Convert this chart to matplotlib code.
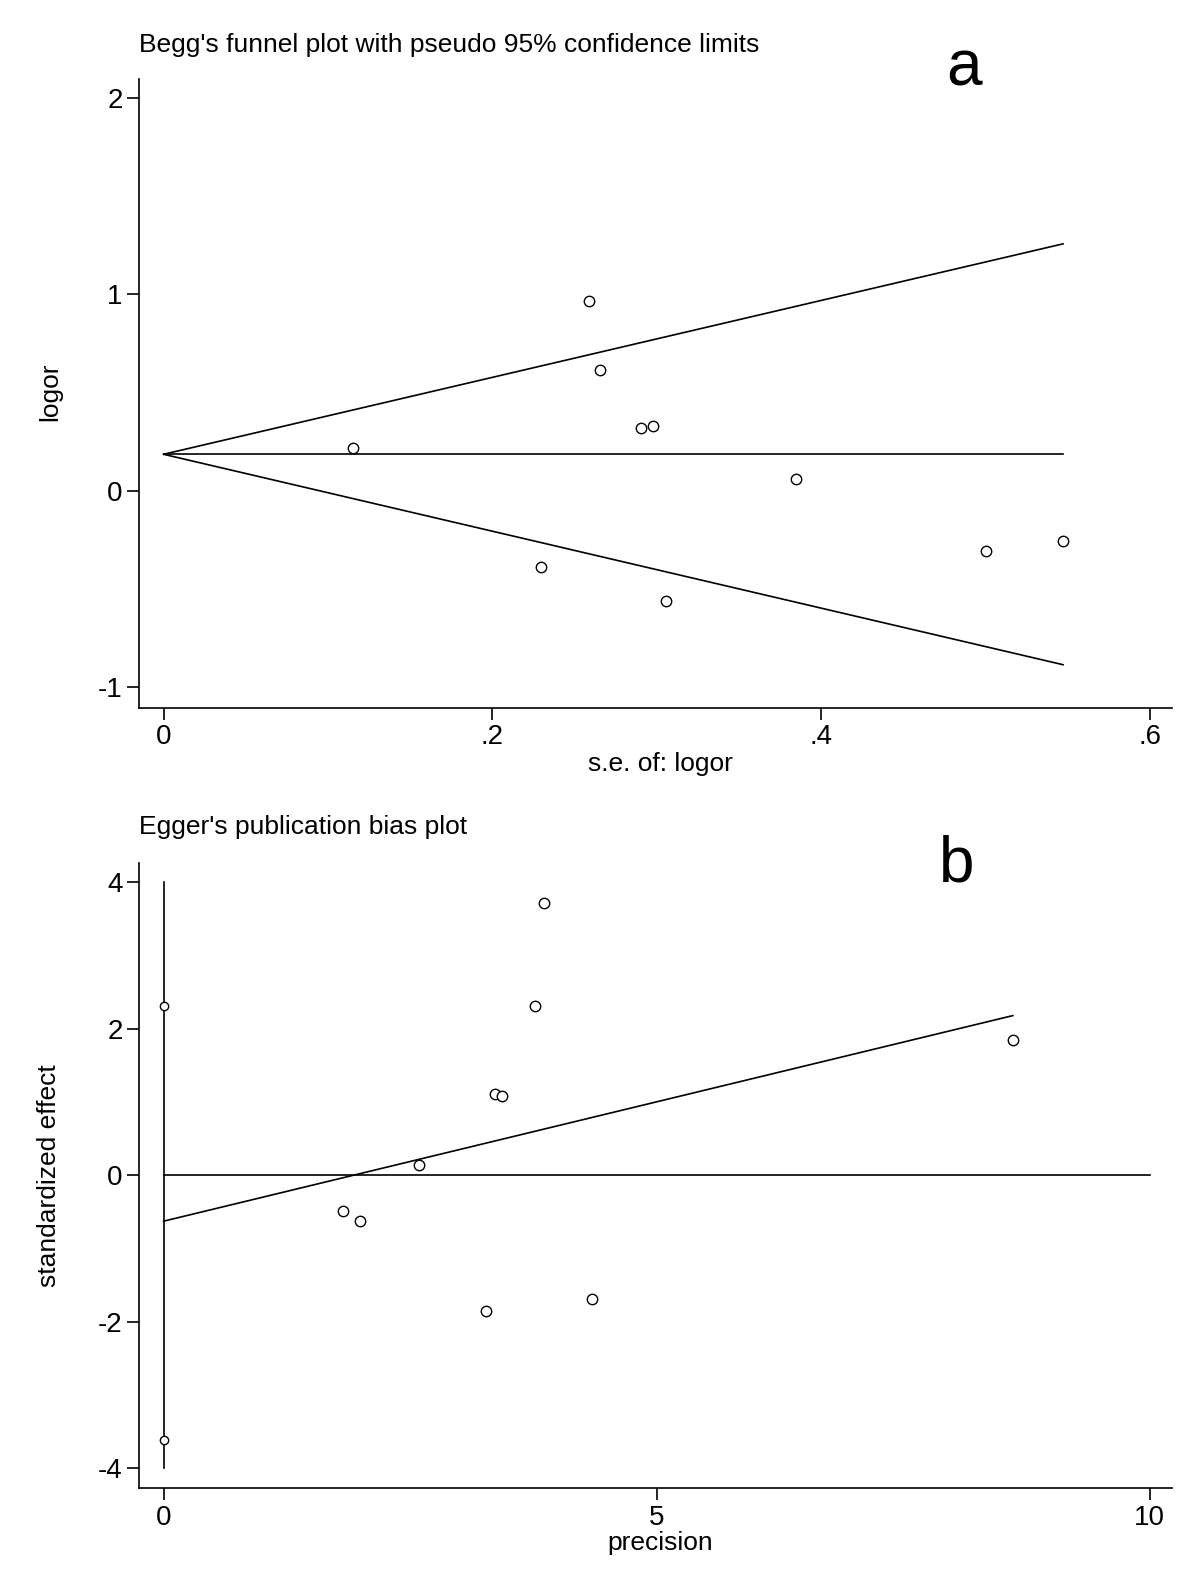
import matplotlib
matplotlib.use("Agg")
import matplotlib.pyplot as plt
import numpy as np

plt.rcParams['font.family'] = ['Liberation Sans', 'DejaVu Sans']
plt.rcParams['axes.unicode_minus'] = False

# ---- Panel a: Begg's funnel plot data ----
se_logor = [0.1154, 0.2295, 0.2585, 0.2654, 0.2906, 0.2974, 0.3056, 0.3846, 0.5000, 0.5470]
logor = [0.216, -0.389, 0.965, 0.614, 0.320, 0.331, -0.565, 0.060, -0.307, -0.258]
pooled_logor = 0.185
funnel_se = [0.0, 0.547]
a_xticks = [0, 0.2, 0.4, 0.6]
a_xticklabels = ["0", ".2", ".4", ".6"]
a_yticks = [-1, 0, 1, 2]

# ---- Panel b: Egger's publication bias plot data ----
precision = [1.823, 1.994, 2.593, 3.269, 3.355, 3.433, 3.761, 3.860, 4.345, 8.611]
std_effect = [-0.489, -0.624, 0.135, -1.856, 1.107, 1.084, 2.309, 3.711, -1.691, 1.838]
intercept_ci = [-3.623, 2.303]
egger_intercept = -0.630
egger_slope = 0.326
egger_x = [0.0, 8.611]
b_xticks = [0, 5, 10]
b_yticks = [-4, -2, 0, 2, 4]

W, H = 1200, 1583
lw = 1.2
fig = plt.figure(figsize=(12, 15.83), dpi=100)

def style(ax):
    for s in ['top', 'right']:
        ax.spines[s].set_visible(False)
    for s in ['left', 'bottom']:
        ax.spines[s].set_linewidth(1.2)
    ax.tick_params(direction='out', length=8.6, width=1.2, labelsize=20, pad=3)

# Panel a
axa = fig.add_axes([0.1158, 0.5527, 0.8605, 0.3974])
style(axa)
z = 1.96
se_arr = np.array(funnel_se)
axa.plot(funnel_se, pooled_logor + z * se_arr, color='black', lw=lw)
axa.plot(funnel_se, pooled_logor - z * se_arr, color='black', lw=lw)
axa.plot(funnel_se, [pooled_logor, pooled_logor], color='black', lw=lw)
axa.plot(se_logor, logor, linestyle='none', marker='o', markersize=7.5,
         markerfacecolor='white', markeredgecolor='black', markeredgewidth=1.0)
axa.set_xlim(-0.015, 0.613)
axa.set_ylim(-1.108, 2.097)
axa.set_xticks(a_xticks)
axa.set_xticklabels(a_xticklabels)
axa.set_yticks(a_yticks)

# Panel b
axb = fig.add_axes([0.1158, 0.0597, 0.8605, 0.3951])
style(axb)
axb.plot([0, 0], [-4, 4], color='black', lw=lw)
axb.plot([0, 10], [0, 0], color='black', lw=lw)
ex = np.array(egger_x)
axb.plot(ex, egger_intercept + egger_slope * ex, color='black', lw=lw)
axb.plot([0, 0], intercept_ci, linestyle='none', marker='o', markersize=6,
         markerfacecolor='white', markeredgecolor='black', markeredgewidth=1.0)
axb.plot(precision, std_effect, linestyle='none', marker='o', markersize=7.5,
         markerfacecolor='white', markeredgecolor='black', markeredgewidth=1.0)
axb.set_xlim(-0.25, 10.22)
axb.set_ylim(-4.28, 4.26)
axb.set_xticks(b_xticks)
axb.set_yticks(b_yticks)

# Axis labels
fig.text(660 / W, 1 - 764 / H, "s.e. of: logor", fontsize=19, ha='center', va='center')
fig.text(50 / W, 1 - 392 / H, "logor", fontsize=19, ha='center', va='center', rotation=90)
fig.text(660 / W, 1 - 1543 / H, "precision", fontsize=19, ha='center', va='center')
fig.text(49 / W, 1 - 1176 / H, "standardized effect", fontsize=19, ha='center', va='center', rotation=90)

# Titles and panel letters
fig.text(0.1158, 1 - 45 / H, "Begg's funnel plot with pseudo 95% confidence limits",
         fontsize=19, ha='left', va='center')
fig.text(0.1158, 1 - 827 / H, "Egger's publication bias plot",
         fontsize=19, ha='left', va='center')
fig.text(964 / W, 1 - 86 / H, "a", fontsize=46, ha='center', va='baseline')
fig.text(957 / W, 1 - 881 / H, "b", fontsize=46, ha='center', va='baseline')

fig.savefig("out.png", dpi=100)
